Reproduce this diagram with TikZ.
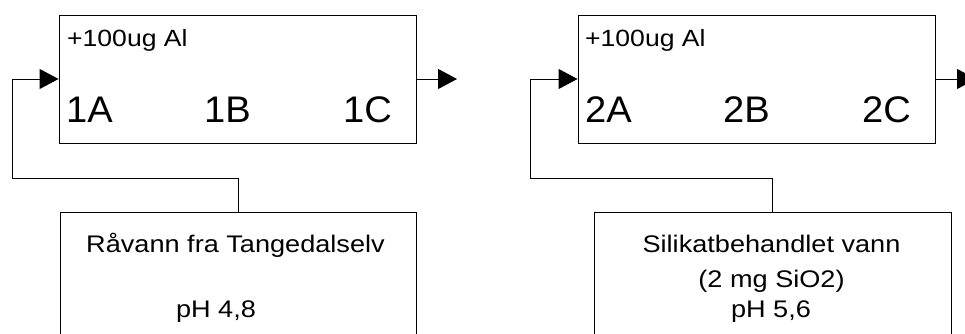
\documentclass[tikz,border=0pt]{standalone}
\usepackage{fontspec}
\setmainfont{Liberation Sans}
\newfontfamily\wide[FakeStretch=1.13]{Liberation Sans}
\newfontfamily\bigwide[FakeStretch=1.03]{Liberation Sans}
\usetikzlibrary{arrows.meta}
\begin{document}
\begin{tikzpicture}[x=1pt,y=-1pt,
  box/.style={draw=black,line width=0.9pt,inner sep=0pt},
  conn/.style={draw=black,line width=0.9pt},
  arr/.style={conn,-{Triangle[length=19pt,width=20pt]}},
  small/.style={inner sep=0pt,font=\wide\fontsize{23.5}{26}\selectfont},
  big/.style={inner sep=0pt,font=\bigwide\fontsize{37}{40}\selectfont},
  src/.style={inner sep=0pt,font=\wide\fontsize{24}{27}\selectfont}]
\useasboundingbox (0,0) rectangle (965,334);
\clip (0,0) rectangle (965,334);
% upper boxes
\node[box,minimum width=357pt,minimum height=128pt] (box1) at (237.5,79) {};
\node[box,minimum width=357pt,minimum height=128pt] (box2) at (756.5,79) {};
% lower boxes (cut by the lower edge)
\node[box,minimum width=356pt,minimum height=160pt] (bot1) at (238,292) {};
\node[box,minimum width=357pt,minimum height=160pt] (bot2) at (772.5,292) {};
% texts in upper boxes
\node[small,anchor=base west] (al1) at (67,47) {+100ug Al};
\node[small,anchor=base west] (al2) at (585,47) {+100ug Al};
\node[big,anchor=base west] (t1a) at (66,122) {1A};
\node[big,anchor=base west] (t1b) at (204,122) {1B};
\node[big,anchor=base west] (t1c) at (343,122) {1C};
\node[big,anchor=base west] (t2a) at (585,122) {2A};
\node[big,anchor=base west] (t2b) at (723,122) {2B};
\node[big,anchor=base west] (t2c) at (862,122) {2C};
% texts in lower boxes
\node[src,anchor=base] (r1) at (235.5,252) {Råvann fra Tangedalselv};
\node[src,anchor=base] (p1) at (216,317) {pH 4,8};
\node[src,anchor=base] (r2) at (771.5,252) {Silikatbehandlet vann};
\node[src,anchor=base] (m2) at (771.5,287) {(2 mg SiO2)};
\node[src,anchor=base] (p2) at (771,317) {pH 5,6};
% connectors
\coordinate (c1) at (12,178);
\coordinate (c2) at (530,178);
\coordinate (o1) at (457,79);
\coordinate (o2) at (976,79);
\draw[arr] (bot1.north) |- (c1) |- (box1.west);
\draw[arr] (bot2.north) |- (c2) |- (box2.west);
\draw[arr] (box1.east) -- (o1);
\draw[arr] (box2.east) -- (o2);
\end{tikzpicture}
\end{document}
